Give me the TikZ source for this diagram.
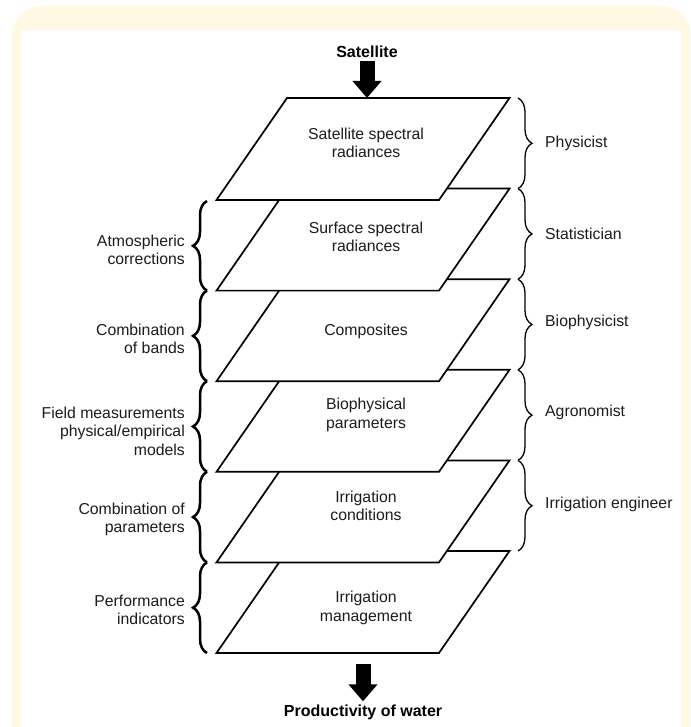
\documentclass[tikz,border=0pt]{standalone}
\usepackage{fontspec}
\setmainfont{Liberation Sans}
\usetikzlibrary{arrows.meta,decorations.pathreplacing}
\definecolor{cream}{RGB}{255,249,228}
\definecolor{ink}{RGB}{28,28,28}
\begin{document}
\begin{tikzpicture}[x=1pt,y=-1pt,
  lbl/.style={font=\fontsize{15.8}{18.5}\selectfont, align=center, inner sep=0pt, text=ink},
  ttl/.style={font=\bfseries\fontsize{16}{19}\selectfont, inner sep=3pt, text=black},
  plate/.style={draw=black, fill=white, line width=1.7pt, line join=miter},
  lbrace/.style={decorate, decoration={brace, amplitude=14pt}, line width=2.5pt, draw=black},
  rbrace/.style={decorate, decoration={brace, amplitude=14pt}, line width=1.3pt, draw=black},
  bigarrow/.style={draw=black, line width=15pt, -{Triangle[length=17pt,width=28pt]}}]
\clip (0,0) rectangle (690,727);
% background frame
\fill[cream, rounded corners=30pt] (12,6) rectangle (691,790);
\fill[white] (21,30) rectangle (681,740);
% stacked plates, bottom first
\foreach \t in {551,460.4,369.8,279.2,188.6,98}{
  \draw[plate] (287,\t) -- (509.5,\t) -- (439,\t+102) -- (216.5,\t+102) -- cycle;
}
\coordinate (L1top) at (367,98);
\coordinate (L6bot) at (363,653);
% plate texts
\node[lbl] (p1) at (366,143) {Satellite spectral\\radiances};
\node[lbl] (p2) at (366,237) {Surface spectral\\radiances};
\node[lbl] (p3) at (366,331) {Composites};
\node[lbl] (p4) at (366,415) {Biophysical\\parameters};
\node[lbl] (p5) at (366,506) {Irrigation\\conditions};
\node[lbl] (p6) at (366,608) {Irrigation\\management};
% top and bottom
\node[ttl] (sat) at (367,52) {Satellite};
\node[ttl] (prod) at (363,712) {Productivity of water};
\draw[bigarrow] (sat.south) -- (L1top);
\draw[bigarrow, shorten <=11pt] (L6bot) -- (prod.north);
% left braces and labels
\draw[lbrace] (207,290.6) -- (207,201);
\draw[lbrace] (207,381.2) -- (207,290.6);
\draw[lbrace] (207,471.8) -- (207,381.2);
\draw[lbrace] (207,562.4) -- (207,471.8);
\draw[lbrace] (207,653) -- (207,562.4);
\node[lbl, anchor=east, align=right] (a1) at (185,250) {Atmospheric\\corrections};
\node[lbl, anchor=east, align=right] (a2) at (185,339) {Combination\\of bands};
\node[lbl, anchor=east, align=right] (a3) at (185,431) {Field measurements\\physical/empirical\\models};
\node[lbl, anchor=east, align=right] (a4) at (185,519.5) {Combination of\\parameters};
\node[lbl, anchor=east, align=right] (a5) at (185,610) {Performance\\indicators};
% right braces and labels
\draw[rbrace] (518,98) -- (518,188.6);
\draw[rbrace] (518,188.6) -- (518,279.2);
\draw[rbrace] (518,279.2) -- (518,369.8);
\draw[rbrace] (518,369.8) -- (518,460.4);
\draw[rbrace] (518,460.4) -- (518,551);
\node[lbl, anchor=west, align=left] (r1) at (545,143) {Physicist};
\node[lbl, anchor=west, align=left] (r2) at (545,234) {Statistician};
\node[lbl, anchor=west, align=left] (r3) at (545,322) {Biophysicist};
\node[lbl, anchor=west, align=left] (r4) at (545,412) {Agronomist};
\node[lbl, anchor=west, align=left] (r5) at (545,504) {Irrigation engineer};
\end{tikzpicture}
\end{document}
